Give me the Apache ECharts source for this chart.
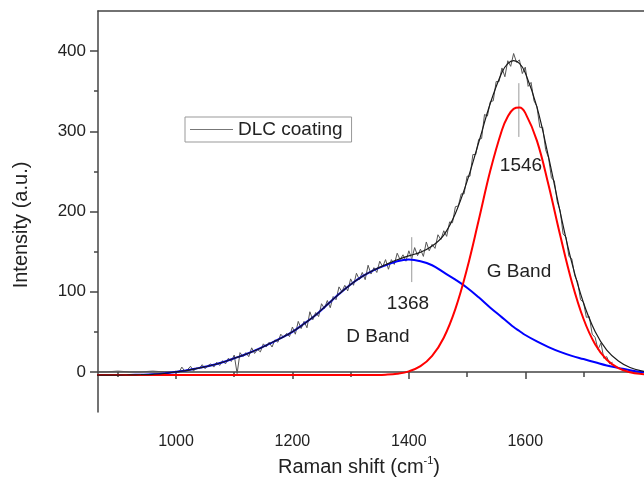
<!DOCTYPE html>
<html><head><meta charset="utf-8">
<script src="https://cdn.jsdelivr.net/npm/echarts@6/dist/echarts.min.js"></script>
<style>html,body{margin:0;padding:0;background:#fff}#c{width:644px;height:483px}</style>
</head><body><div id="c"></div>
<script>
// ---- data ----
const fitX = [860,880,900,920,940,960,980,1000,1020,1040,1060,1080,1100,1120,1140,1160,1180,1200,1220,1240,1260,1280,1300,1320,1340,1360,1380,1400,1420,1440,1460,1480,1500,1520,1540,1560,1570,1580,1590,1600,1620,1640,1660,1680,1700,1720,1740,1760,1780,1800,1820];
const dBand = [-4,-4,-4,-3.8,-3.5,-3,-2,0,2,5,8,12,17,22,28,35,42,50,60,71,84,97,109,119,127,133,138,140,138,133,124,115,105,93,80,68,62,56,51,46,38,31,25,20,16,12,8,5,2,0,-1];
const gBand = [-4,-4,-4,-4,-4,-4,-4,-4,-4,-4,-4,-4,-4,-4,-4,-4,-4,-4,-4,-4,-4,-4,-4,-4,-3.8,-3.4,-2.2,0.7,7.1,19.9,42.6,78.6,128.6,189,251,301.6,318.4,328,329.6,323,288.4,233,170.3,112.2,66.3,34.5,15.2,4.7,-0.5,-2.7,-3.5];
const cumFit = [-4,-4,-4,-3.8,-3.5,-3,-2,0,2,5,8,12,17,22,28,35,42,50,60,71,84,97,109,119,127,133.6,139.8,144.7,149.1,156.9,170.6,197.6,237.6,286,335,373.6,384.4,388,384.6,373,330.4,268,199.3,136.2,86.3,50.5,27.2,13.7,5.5,1.3,-0.5];

const rawX = [866,880,900,920,940,960,980,995,
1000,1005,1010,1015,1020,1025,1030,1035,1040,1045,1050,1055,1060,1065,1070,1075,1080,1085,1090,1095,
1100,1105,1110,1115,1120,1125,1130,1135,1140,1145,1150,1155,1160,1165,1170,1175,1180,1185,1190,1195,
1200,1205,1210,1215,1220,1225,1230,1235,1240,1245,1250,1255,1260,1265,1270,1275,1280,1285,1290,1295,
1300,1305,1310,1315,1320,1325,1330,1335,1340,1345,1350,1355,1360,1365,1370,1375,1380,1385,1390,1395,
1400,1405,1410,1415,1420,1425,1430,1435,1440,1445,1450,1455,1460,1465,1470,1475,1480,1485,1490,1495,
1500,1505,1510,1515,1520,1525,1530,1535,1540,1545,1550,1555,1560,1565,1570,1575,1580,1585,1590,1595,
1600,1605,1610,1615,1620,1625,1630,1635,1640,1645,1650,1655,1660,1665,1670,1675,1680,1685,1690,1695,
1700,1705,1710,1715,1720,1725,1730,1735,1740,1745,1750];
const rawY = [0,0,1,0,0,1,0,0,
1,-1,6,1,3,7,1,5,4,9,4,8,10,6,12,8,14,10,17,13,
21,-2,24,19,24,19,30,23,28,25,35,31,37,31,40,37,47,43,48,44,
56,47,63,54,63,55,75,65,74,69,85,79,89,80,94,90,106,100,108,101,
116,108,123,115,124,115,133,122,130,124,138,131,140,128,140,134,148,140,146,138,
151,141,155,145,153,144,162,151,159,154,171,165,176,169,187,186,206,207,222,222,
244,244,271,271,290,291,321,319,337,338,362,362,379,368,388,381,397,386,389,372,
380,356,361,338,331,305,305,277,267,242,238,212,201,172,168,144,141,120,112,90,
87,68,69,47,43,28,36,17,19,10,12];

const markX = [1405, 1589];
const markLow = [112, 293];
const markHigh = [168, 360];

const xMajor = [1000,1200,1400,1600];
const xMinor = [900,1100,1300,1500,1700];
const yMajor = [0,100,200,300,400];
const yMinor = [50,150,250,350];

// ---- chart ----
const FF = "'Liberation Sans', Arial, sans-serif";
const AX = '#444';
const pairs = (xs, ys) => xs.map((x, i) => [x, ys[i]]);
const chart = echarts.init(document.getElementById('c'), null, {renderer: 'canvas'});
const gridRect = {left: 98, top: 11, width: 546, height: 401};
const xBase = {type: 'value', min: 866, max: 1804, splitLine: {show: false}};
const yBase = {type: 'value', min: -50, max: 450, splitLine: {show: false}};

const series = [
  {type: 'line', name: 'DLC coating', data: pairs(rawX, rawY), symbol: 'none', showSymbol: false,
   lineStyle: {color: '#555', width: 1}, itemStyle: {color: '#555'}, z: 2}
];
markX.forEach((x, i) => {
  series.push({type: 'line', name: 'peak' + i, data: [[x, markLow[i]], [x, markHigh[i]]], symbol: 'none',
    lineStyle: {color: '#999', width: 1}, z: 2});
});
series.push(
  {type: 'line', name: 'D', data: pairs(fitX, dBand), symbol: 'none', smooth: 0.4,
   lineStyle: {color: '#0000ff', width: 2}, z: 3},
  {type: 'line', name: 'G', data: pairs(fitX, gBand), symbol: 'none', smooth: 0.4,
   lineStyle: {color: '#ff0000', width: 2}, z: 3},
  {type: 'line', name: 'fit', data: pairs(fitX, cumFit), symbol: 'none', smooth: 0.4,
   lineStyle: {color: '#1a1a1a', width: 1.2}, z: 4}
);

chart.setOption({
  animation: false,
  backgroundColor: '#fff',
  grid: [Object.assign({}, gridRect), Object.assign({}, gridRect)],
  xAxis: [
    Object.assign({}, xBase, {gridIndex: 0, position: 'bottom',
      axisLine: {lineStyle: {color: AX, width: 1.5}},
      axisTick: {customValues: xMajor, length: 7, lineStyle: {color: AX, width: 1.5}},
      axisLabel: {customValues: xMajor, margin: 22, fontSize: 16, color: '#222', fontFamily: FF,
                  formatter: v => String(v)}}),
    Object.assign({}, xBase, {gridIndex: 0, position: 'top',
      axisLine: {lineStyle: {color: AX, width: 1.5}}, axisTick: {show: false}, axisLabel: {show: false}}),
    Object.assign({}, xBase, {gridIndex: 1, position: 'bottom',
      axisLine: {show: false},
      axisTick: {customValues: xMinor, length: 5, lineStyle: {color: AX, width: 1.5}},
      axisLabel: {show: false}})
  ],
  yAxis: [
    Object.assign({}, yBase, {gridIndex: 0, position: 'left',
      axisLine: {show: true, lineStyle: {color: AX, width: 1.5}},
      axisTick: {show: true, customValues: yMajor, length: 8, lineStyle: {color: AX, width: 1.5}},
      axisLabel: {customValues: yMajor, margin: 12, fontSize: 17, color: '#222', fontFamily: FF,
                  formatter: v => String(v)}}),
    Object.assign({}, yBase, {gridIndex: 1, position: 'left',
      axisLine: {show: false},
      axisTick: {show: true, customValues: yMinor, length: 4, lineStyle: {color: AX, width: 1.5}},
      axisLabel: {show: false}})
  ],
  legend: {
    data: [{name: 'DLC coating', icon: 'rect', itemStyle: {color: '#777'}}],
    left: 185, top: 117, itemWidth: 43, itemHeight: 1.2,
    padding: [2, 9, 2, 5], borderColor: '#999', borderWidth: 1, itemGap: 0,
    textStyle: {fontSize: 19, fontFamily: FF, color: '#222', lineHeight: 21}
  },
  graphic: [
    {type: 'text', x: 521, y: 166, style: {text: '1546', fontSize: 19, fontFamily: FF, fill: '#222', align: 'center', verticalAlign: 'middle'}},
    {type: 'text', x: 408, y: 304, style: {text: '1368', fontSize: 19, fontFamily: FF, fill: '#222', align: 'center', verticalAlign: 'middle'}},
    {type: 'text', x: 378, y: 337, style: {text: 'D Band', fontSize: 19, fontFamily: FF, fill: '#222', align: 'center', verticalAlign: 'middle'}},
    {type: 'text', x: 519, y: 272, style: {text: 'G Band', fontSize: 19, fontFamily: FF, fill: '#222', align: 'center', verticalAlign: 'middle'}},
    {type: 'text', x: 21, y: 225, rotation: Math.PI / 2, style: {text: 'Intensity (a.u.)', fontSize: 20, fontFamily: FF, fill: '#222', align: 'center', verticalAlign: 'middle'}},
    {type: 'text', x: 359, y: 467, style: {
      text: '{a|Raman shift (cm}{s|-1}{a|)}', align: 'center', verticalAlign: 'middle', fill: '#222',
      rich: {a: {fontSize: 20, fontFamily: FF, fill: '#222', lineHeight: 24},
             s: {fontSize: 11, fontFamily: FF, fill: '#222', verticalAlign: 'top', lineHeight: 12}}
    }}
  ],
  series: series
});
</script></body></html>
